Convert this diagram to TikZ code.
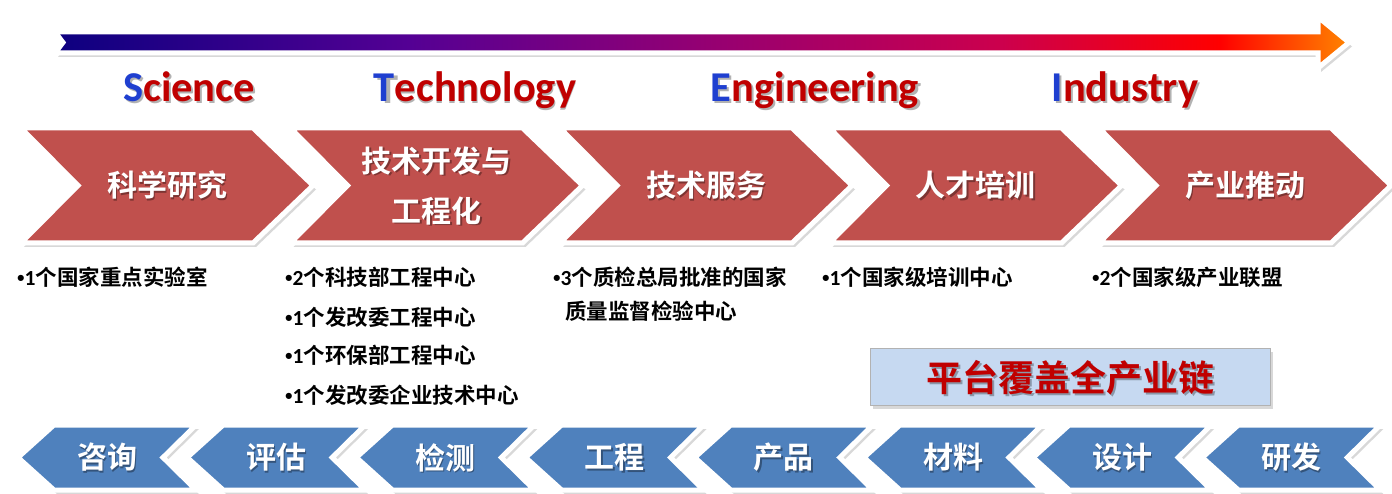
\documentclass[tikz,border=0pt]{standalone}
\usepackage{fontspec}
\setmainfont{Carlito}
\newfontfamily\cjk{Noto Sans CJK SC}[BoldFont={Noto Sans CJK SC Bold}]
\newfontfamily\bulfont{Liberation Sans}
\usetikzlibrary{shadows}
\definecolor{chevred}{HTML}{C0504D}
\definecolor{chevblue}{HTML}{4F81BD}
\definecolor{darkred}{HTML}{C00000}
\definecolor{sblue}{HTML}{1F3FD0}
\definecolor{boxblue}{HTML}{C6D9F1}
\pgfdeclarehorizontalshading{arrowgrad}{100bp}{rgb(0bp)=(0.05,0,0.5); rgb(25bp)=(0.05,0,0.5); rgb(38.7bp)=(0.33,0,0.58); rgb(50bp)=(0.58,0,0.45); rgb(61.6bp)=(0.8,0,0.3); rgb(70bp)=(1,0,0); rgb(75bp)=(1,0.52,0); rgb(100bp)=(1,0.52,0)}
\newcommand\bl[1]{{\bulfont\bfseries •}{\rmfamily\bfseries #1}}
\begin{document}
\begin{tikzpicture}[x=1pt,y=-1pt,
  shad/.style={drop shadow={opacity=0.3,shadow xshift=3pt,shadow yshift=-4pt}},
  redchev/.style={fill=chevred,draw=white,line width=5pt,line join=miter,shad},
  bluechev/.style={fill=chevblue,draw=white,line width=5pt,line join=miter,shad},
  chevtext/.style={text=white,align=center,inner sep=0pt,font=\cjk\bfseries\fontsize{30}{50}\selectfont},
  chevshadow/.style={chevtext,text=black,opacity=0.35},
  latin/.style={anchor=base,inner sep=0pt,text=darkred,font=\rmfamily\bfseries\fontsize{42.5}{50}\selectfont},
  latinshadow/.style={latin,text=black,opacity=0.3},
  bul/.style={anchor=west,inner sep=0pt,font=\cjk\bfseries\fontsize{21.5}{25}\selectfont},
  plattext/.style={inner sep=0pt,text=darkred,font=\cjk\bfseries\fontsize{36}{40}\selectfont},
  platshadow/.style={plattext,text=black,opacity=0.3}]
\useasboundingbox (0,0) rectangle (1392,494);
\fill[white] (0,0) rectangle (1392,494);
% top gradient arrow
\path[shade,shading=arrowgrad,draw=white,line width=5pt,line join=miter,shad]
  (55,32) -- (1318,32) -- (1318,17) -- (1349,42.5) -- (1318,68) -- (1318,53) -- (55,53) -- (63,42.5) -- cycle;
% latin labels
\node[latinshadow] (scis) at (191,104) {Science};
\node[latin] (sci) at (189,102) {\textcolor{sblue}{S}cience};
\node[latinshadow] (tecs) at (477,104) {Technology};
\node[latin] (tec) at (475,102) {\textcolor{sblue}{T}echnology};
\node[latinshadow] (engs) at (817,104) {Engineering};
\node[latin] (eng) at (815,102) {\textcolor{sblue}{E}ngineering};
\node[latinshadow] (inds) at (1127,104) {Industry};
\node[latin] (ind) at (1125,102) {\textcolor{sblue}{I}ndustry};
% red chevrons
\foreach \i/\t in {0/{科学研究},1/{技术开发与\\工程化},2/{技术服务},3/{人才培训},4/{产业推动}} {
  \pgfmathsetmacro\L{21+269.5*\i}
  \draw[redchev] (\L,128) -- ++(232,0) -- ++(60,57.5) -- ++(-60,57.5) -- ++(-232,0) -- ++(57,-57.5) -- cycle;
  \node[chevshadow] (rs\i) at (\L+147.5,187) {\t};
  \node[chevtext] (r\i) at (\L+146,185.5) {\t};
}
% bullet lists
\node[bul] (l1) at (17,277) {\bl{1}个国家重点实验室};
\node[bul] (l2a) at (285,277) {\bl{2}个科技部工程中心};
\node[bul] (l2b) at (285,317) {\bl{1}个发改委工程中心};
\node[bul] (l2c) at (285,355) {\bl{1}个环保部工程中心};
\node[bul] (l2d) at (285,395) {\bl{1}个发改委企业技术中心};
\node[bul] (l3a) at (553,277) {\bl{3}个质检总局批准的国家};
\node[bul] (l3b) at (565,311) {质量监督检验中心};
\node[bul] (l4) at (822,277) {\bl{1}个国家级培训中心};
\node[bul] (l5) at (1092,277) {\bl{2}个国家级产业联盟};
% platform box
\node[draw=gray!60,fill=boxblue,line width=1pt,minimum width=400pt,minimum height=57pt,inner sep=0pt,shad] (plat) at (1070,376.5) {};
\node[platshadow] (plats) at (1072,380) {平台覆盖全产业链};
\node[plattext] (platt) at (1070,378) {平台覆盖全产业链};
% blue chevrons
\foreach \i/\t in {0/咨询,1/评估,2/检测,3/工程,4/产品,5/材料,6/设计,7/研发} {
  \pgfmathsetmacro\L{54+169.2*\i}
  \draw[bluechev] (\L,425) -- ++(142,0) -- ++(-33,32.5) -- ++(33,32.5) -- ++(-142,0) -- ++(-36,-32.5) -- cycle;
  \node[chevshadow] (bs\i) at (\L+54.5,459) {\t};
  \node[chevtext] (b\i) at (\L+53,457.5) {\t};
}
\end{tikzpicture}
\end{document}
